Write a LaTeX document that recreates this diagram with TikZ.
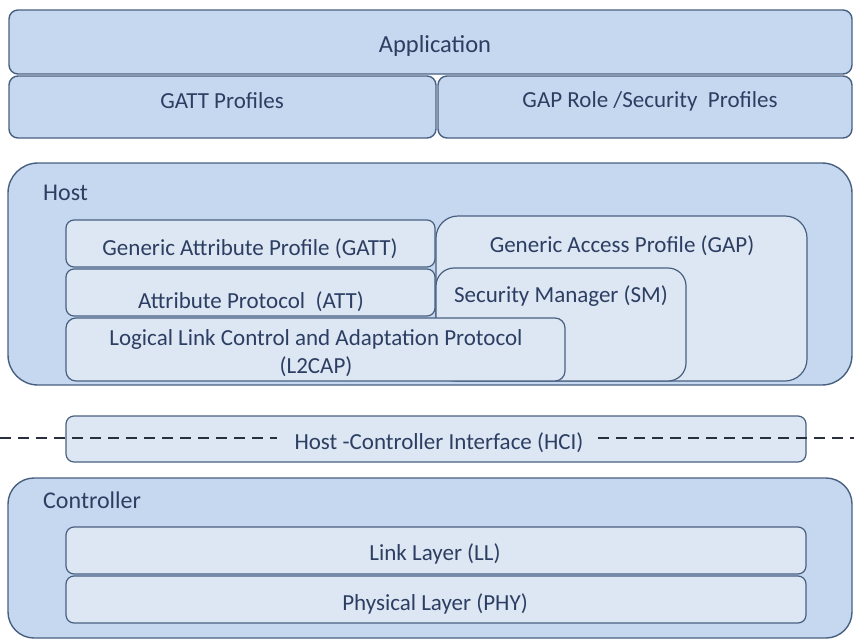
\documentclass[tikz,border=0pt]{standalone}
\usepackage{fontspec}
\setmainfont{Carlito}
\definecolor{outerfill}{RGB}{198,216,240}
\definecolor{innerfill}{RGB}{221,230,243}
\definecolor{edge}{RGB}{72,96,128}
\definecolor{txt}{RGB}{44,62,98}
\definecolor{dashc}{RGB}{40,48,62}
\begin{document}
\begin{tikzpicture}[x=1pt,y=-1pt,
  outerbox/.style={draw=edge,line width=1.4pt,fill=outerfill},
  innerbox/.style={draw=edge,line width=1.2pt,fill=innerfill},
  lbl/.style={text=txt,font=\fontsize{23}{27}\selectfont,inner sep=0pt,anchor=base},
  hdr/.style={text=txt,font=\fontsize{24}{28}\selectfont,inner sep=0pt,anchor=base west},
  hcidash/.style={draw=dashc,line width=2.4pt,dash pattern=on 11pt off 7pt}]
\useasboundingbox (0,0) rectangle (854,640);
% Top stack
\draw[outerbox,rounded corners=9pt] (9,10) rectangle (852,74);
\draw[outerbox,rounded corners=9pt] (9,76) rectangle (436,138);
\draw[outerbox,rounded corners=9pt] (438,76) rectangle (852,138);
\node[lbl,font=\fontsize{24.5}{28}\selectfont] (app) at (435,52) {Application};
\node[lbl] (gattp) at (222,108) {GATT Profiles};
\node[lbl] (gapp) at (650,107) {GAP Role /Security\ \ Profiles};
% Host
\draw[outerbox,rounded corners=30pt] (8,163) rectangle (852,385);
\node[hdr] (host) at (43,200) {Host};
\draw[innerbox,rounded corners=22pt] (436,216) rectangle (807,381);
\node[lbl] (gap) at (622,252) {Generic Access Profile (GAP)};
\draw[innerbox,rounded corners=18pt] (436,268) rectangle (686,381);
\node[lbl] (sm) at (561,302) {Security Manager (SM)};
\draw[innerbox,rounded corners=8pt] (66,220) rectangle (435,267);
\node[lbl] (gatt) at (250,255) {Generic Attribute Profile (GATT)};
\draw[innerbox,rounded corners=8pt] (66,269) rectangle (435,316);
\node[lbl] (att) at (251,308) {Attribute Protocol\ \ (ATT)};
\draw[innerbox,rounded corners=10pt] (66,318) rectangle (565,381);
\node[lbl] (l2a) at (316,345) {Logical Link Control and Adaptation Protocol};
\node[lbl] (l2b) at (316,373) {(L2CAP)};
% HCI
\draw[innerbox,rounded corners=8pt] (66,416) rectangle (806,462);
\node[lbl] (hci) at (439,449) {Host -Controller Interface (HCI)};
\coordinate (dl) at (0,438);
\coordinate (dr) at (854,438);
\coordinate (hl) at (277,438);
\coordinate (hr) at (598,438);
\draw[hcidash] (dl) -- (hl);
\draw[hcidash] (hr) -- (dr);
% Controller
\draw[outerbox,rounded corners=26pt] (8,478) rectangle (852,638);
\node[hdr] (ctrl) at (43,508) {Controller};
\draw[innerbox,rounded corners=8pt] (66,527) rectangle (806,574);
\node[lbl] (ll) at (435,560) {Link Layer (LL)};
\draw[innerbox,rounded corners=8pt] (66,576) rectangle (806,623);
\node[lbl] (phy) at (435,610) {Physical Layer (PHY)};
\end{tikzpicture}
\end{document}
